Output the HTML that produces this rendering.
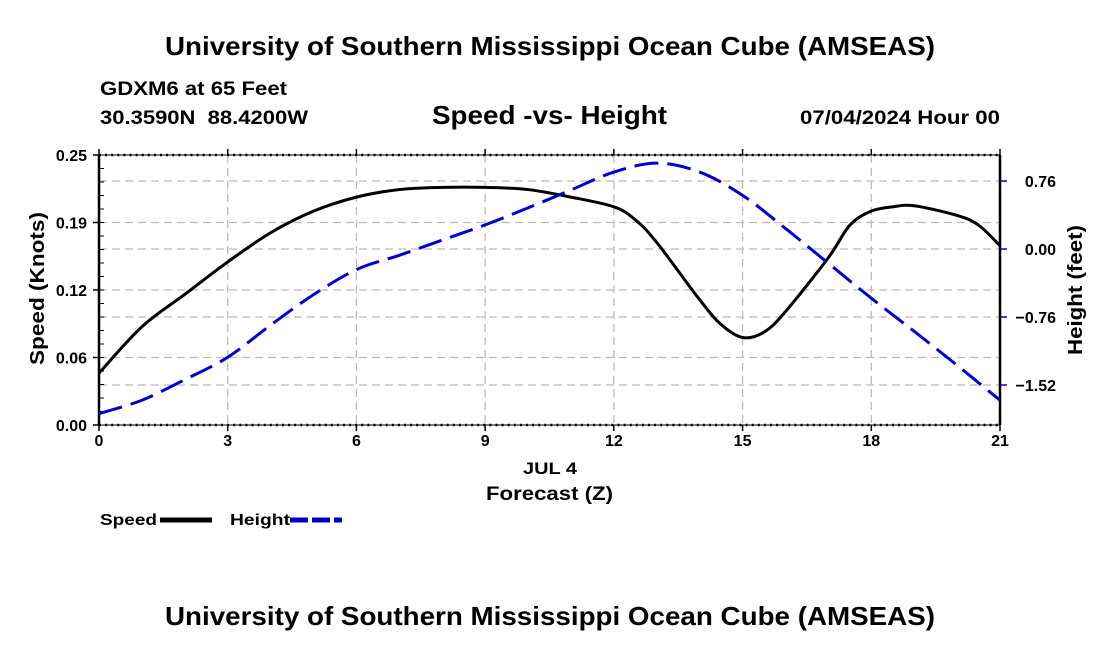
<!DOCTYPE html>
<html><head><meta charset="utf-8"><style>
body{margin:0;background:#fff;width:1100px;height:650px;overflow:hidden}
svg{display:block;font-family:"Liberation Sans",sans-serif;font-weight:bold}
</style></head><body>
<svg id="c" width="1100" height="650">
<text x="165" y="55" font-size="26" textLength="770" lengthAdjust="spacingAndGlyphs">University of Southern Mississippi Ocean Cube (AMSEAS)</text>
<text x="100" y="95" font-size="19" textLength="187" lengthAdjust="spacingAndGlyphs">GDXM6 at 65 Feet</text>
<text x="100" y="124" font-size="19" textLength="208" lengthAdjust="spacingAndGlyphs" xml:space="preserve">30.3590N  88.4200W</text>
<text x="432" y="124" font-size="26" textLength="235" lengthAdjust="spacingAndGlyphs">Speed -vs- Height</text>
<text x="800" y="124" font-size="19" textLength="200" lengthAdjust="spacingAndGlyphs">07/04/2024 Hour 00</text>
<text x="165" y="625" font-size="26" textLength="770" lengthAdjust="spacingAndGlyphs">University of Southern Mississippi Ocean Cube (AMSEAS)</text>
<g id="grid"></g><g id="axes"></g><g id="series"></g>
<text x="523" y="474" font-size="17" textLength="54" lengthAdjust="spacingAndGlyphs">JUL 4</text>
<text x="486" y="500" font-size="19" textLength="127" lengthAdjust="spacingAndGlyphs">Forecast (Z)</text>
<text transform="translate(44,365) rotate(-90)" font-size="20" textLength="153" lengthAdjust="spacingAndGlyphs">Speed (Knots)</text>
<text transform="translate(1082,355) rotate(-90)" font-size="20" textLength="130" lengthAdjust="spacingAndGlyphs">Height (feet)</text>
<g>
<text x="100" y="525" font-size="16" textLength="57" lengthAdjust="spacingAndGlyphs">Speed</text>
<line x1="160" y1="520" x2="212" y2="520" stroke="#000" stroke-width="5"/>
<text x="230" y="525" font-size="16" textLength="60" lengthAdjust="spacingAndGlyphs">Height</text>
<line x1="290" y1="520" x2="342" y2="520" stroke="#00c" stroke-width="5" stroke-dasharray="18,4"/>
</g>
</svg>
<script>
const hours=[0,1,2,3,4,5,6,7,8,9,10,11,12,12.5,13,14,14.5,15,15.5,16,17,17.5,18,18.5,19,20,20.5,21];
const speed=[0.048,0.091,0.121,0.151,0.178,0.198,0.211,0.218,0.220,0.220,0.218,0.211,0.202,0.190,0.169,0.116,0.093,0.081,0.086,0.105,0.155,0.185,0.198,0.202,0.203,0.194,0.185,0.166];
const hHours=[0,1,2,3,4,5,6,7,8,9,10,11,12,13,14,15,16,17,18,19,20,21];
const height=[-1.84,-1.69,-1.46,-1.21,-0.85,-0.51,-0.23,-0.07,0.10,0.27,0.46,0.66,0.86,0.96,0.86,0.60,0.23,-0.16,-0.55,-0.92,-1.30,-1.69];
const xTicks=[0,3,6,9,12,15,18,21];
const leftTicks=[0,0.0625,0.125,0.1875,0.25];
const leftLabels=["0.00","0.06","0.12","0.19","0.25"];
const rightTicks=[0.76,0,-0.76,-1.52];
const rightLabels=["0.76","0.00","\u22120.76","\u22121.52"];
const X0=99,X1=1000,Y0=425,Y1=155;
const xs=h=>X0+(X1-X0)*h/21;
const ys=v=>Y0-(Y0-Y1)*v/0.25;
const RMIN=-1.967,RMAX=1.051;
const yr=v=>Y0-(Y0-Y1)*(v-RMIN)/(RMAX-RMIN);
const NS="http://www.w3.org/2000/svg";
function mk(t,a,p){const e=document.createElementNS(NS,t);for(const k in a)e.setAttribute(k,a[k]);p.appendChild(e);return e;}
function smooth(pts){let d="M"+pts[0][0]+","+pts[0][1];
for(let i=0;i<pts.length-1;i++){const p0=pts[Math.max(0,i-1)],p1=pts[i],p2=pts[i+1],p3=pts[Math.min(pts.length-1,i+2)];
const c1=[p1[0]+(p2[0]-p0[0])/6,p1[1]+(p2[1]-p0[1])/6],c2=[p2[0]-(p3[0]-p1[0])/6,p2[1]-(p3[1]-p1[1])/6];
d+=" C"+c1+" "+c2+" "+p2;}return d;}
const grid=document.getElementById('grid'),axes=document.getElementById('axes'),ser=document.getElementById('series');
const gs={stroke:"#bbb","stroke-width":1.3,"stroke-dasharray":"8,5"};
xTicks.forEach(h=>{if(h>0&&h<21){const l=mk('line',Object.assign({x1:xs(h),x2:xs(h),y1:Y1,y2:Y0},gs),grid);

}});
leftTicks.forEach(v=>{if(v>0&&v<0.25){const l=mk('line',Object.assign({x1:X0,x2:X1,y1:ys(v),y2:ys(v)},gs),grid);

}});
rightTicks.forEach(v=>{const l=mk('line',Object.assign({x1:X0,x2:X1,y1:yr(v),y2:yr(v)},gs),grid);

});
let f=mk('line',{x1:X0,x2:X0,y1:Y1,y2:Y0,stroke:"#000","stroke-width":2.5},axes);


f=mk('line',{x1:X1,x2:X1,y1:Y1,y2:Y0,stroke:"#000","stroke-width":2.5},axes);


f=mk('line',{x1:X0,x2:X1,y1:Y0,y2:Y0,stroke:"#000","stroke-width":2.5,"stroke-dasharray":"2,4.1"},axes);


mk('line',{x1:X0,x2:X1,y1:Y0,y2:Y0,stroke:"#000","stroke-width":1},axes);
f=mk('line',{x1:X0,x2:X1,y1:Y1,y2:Y1,stroke:"#000","stroke-width":2.5,"stroke-dasharray":"2,4.1"},axes);


mk('line',{x1:X0,x2:X1,y1:Y1,y2:Y1,stroke:"#000","stroke-width":1},axes);
xTicks.forEach(h=>{mk('line',{x1:xs(h),x2:xs(h),y1:Y0,y2:Y0+6,stroke:"#000","stroke-width":1.5},axes);
mk('line',{x1:xs(h),x2:xs(h),y1:Y1,y2:Y1-6,stroke:"#000","stroke-width":1.5},axes);
const t=mk('text',{x:xs(h),y:Y0+21,"font-size":16,"text-anchor":"middle"},axes);t.textContent=h;

});
for(let i=1;i<20;i++){const v=0.25*i/20;mk('line',{x1:X0,x2:X0+5,y1:ys(v),y2:ys(v),stroke:"#000","stroke-width":1},axes);}
leftTicks.forEach((v,i)=>{mk('line',{x1:X0-6,x2:X0,y1:ys(v),y2:ys(v),stroke:"#000","stroke-width":1.5},axes);
const t=mk('text',{x:X0-12,y:ys(v)+6,"font-size":16,"text-anchor":"end"},axes);t.textContent=leftLabels[i];

});
rightTicks.forEach((v,i)=>{mk('line',{x1:X1,x2:X1+7,y1:yr(v),y2:yr(v),stroke:"#00c","stroke-width":1.5},axes);
const t=mk('text',{x:1056,y:yr(v)+6,"font-size":16,"text-anchor":"end"},axes);t.textContent=rightLabels[i];

});
let p=mk('path',{d:smooth(hours.map((h,i)=>[xs(h),ys(speed[i])])),fill:"none",stroke:"#000","stroke-width":3,"stroke-linejoin":"round"},ser);


p=mk('path',{d:smooth(hHours.map((h,i)=>[xs(h),yr(height[i])])),fill:"none",stroke:"#00c","stroke-width":3,"stroke-dasharray":"24,9"},ser);


</script>
</body></html>
